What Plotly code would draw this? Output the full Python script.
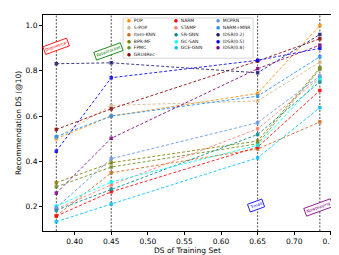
import plotly.graph_objects as go

train_ds = [0.375, 0.45, 0.65, 0.735]

series_names = ["POP", "S-POP", "Item-KNN", "BPR-MF", "FPMC", "GRU4Rec",
                "NARM", "STAMP", "SR-GNN", "GC-SAN", "GCE-GNN",
                "MCPRN", "NARM+MNR", "IDSR(0.2)", "IDSR(0.5)", "IDSR(0.8)"]

pop = [0.500, 0.600, 0.700, 1.000]
s_pop = [0.505, 0.647, 0.667, 0.838]
item_knn = [0.160, 0.350, 0.455, 0.574]
bpr_mf = [0.306, 0.394, 0.490, 0.813]
fpmc = [0.288, 0.375, 0.478, 0.807]
gru4rec = [0.541, 0.632, 0.843, 0.941]
narm = [0.159, 0.266, 0.463, 0.713]
stamp = [0.190, 0.296, 0.544, 0.770]
sr_gnn = [0.185, 0.277, 0.519, 0.751]
gc_san = [0.203, 0.309, 0.471, 0.766]
gce_gnn = [0.134, 0.212, 0.416, 0.637]
mcprn = [0.196, 0.412, 0.571, 0.777]
narm_mnr = [0.509, 0.600, 0.688, 0.862]
idsr_02 = [0.831, 0.835, 0.791, 0.960]
idsr_05 = [0.445, 0.769, 0.846, 0.899]
idsr_08 = [0.260, 0.502, 0.809, 0.913]

series_values = [pop, s_pop, item_knn, bpr_mf, fpmc, gru4rec, narm, stamp,
                 sr_gnn, gc_san, gce_gnn, mcprn, narm_mnr, idsr_02, idsr_05, idsr_08]

colors = ["#ff8c00", "#d2b48c", "#d2691e", "#808000", "#6b8e23", "#8b0000",
          "#ff0000", "#fa8072", "#008b8b", "#00ffff", "#00bfff",
          "#6495ed", "#1e90ff", "#191970", "#0000ff", "#800080"]

dataset_names = ["Diginetica", "Retailrocket", "Tmall", "Nowplaying"]
dataset_colors = ["#ff0000", "#008000", "#0000ff", "#800080"]
label_y = [0.909, 0.884, 0.206, 0.196]
label_x = [0.374, 0.446, 0.648, 0.733]

x_ticks = [0.40, 0.45, 0.50, 0.55, 0.60, 0.65, 0.70, 0.75]
y_ticks = [0.2, 0.4, 0.6, 0.8, 1.0]

fig = go.Figure()
for name, vals, col in zip(series_names, series_values, colors):
    fig.add_trace(go.Scatter(
        x=train_ds, y=vals, name=name, mode="lines+markers",
        line=dict(color=col, width=1, dash="3px,2px"),
        marker=dict(color=col, size=3.5, symbol="square"),
        opacity=0.85, showlegend=False))

# vertical dashed lines at the training-set DS values
for xv in train_ds:
    fig.add_shape(type="line", xref="x", yref="paper", x0=xv, x1=xv, y0=0, y1=1,
                  line=dict(color="#222", width=0.8, dash="2px,1.5px"), layer="below")

# dataset labels
for name, col, xv, yv in zip(dataset_names, dataset_colors, label_x, label_y):
    fig.add_annotation(x=xv, y=yv, xref="x", yref="y", text=name, showarrow=False,
                       textangle=-20, font=dict(size=4.3, color=col, family="DejaVu Sans"),
                       bgcolor="white", bordercolor=col, borderwidth=0.8, borderpad=1)

# manual legend (3 columns)
leg_x0, leg_x1, leg_y0, leg_y1 = 0.277, 0.727, 0.80, 0.986
fig.add_shape(type="rect", xref="paper", yref="paper", x0=leg_x0, x1=leg_x1,
              y0=leg_y0, y1=leg_y1, line=dict(color="#cccccc", width=0.8),
              fillcolor="rgba(255,255,255,0.8)", layer="above")
col_x = [0.285, 0.447, 0.593]
row_h = 6.8 / 216
columns = [series_names[0:6], series_names[6:11], series_names[11:16]]
idx = 0
for ci, names in enumerate(columns):
    for ri, nm in enumerate(names):
        col = colors[idx]
        fig.add_annotation(
            xref="paper", yref="paper", x=col_x[ci], y=0.974 - ri * row_h,
            xanchor="left", yanchor="middle", showarrow=False,
            text=f"<span style='color:{col}'>●</span>  {nm}",
            font=dict(size=4.5, color="#222", family="DejaVu Sans"))
        idx += 1

# axis titles
fig.add_annotation(xref="paper", yref="paper", x=0.5, y=-0.088, text="DS of Training Set",
                   showarrow=False, xanchor="center", yanchor="middle",
                   font=dict(size=7.5, family="DejaVu Sans", color="black"))
fig.add_annotation(xref="paper", yref="paper", x=-0.0865, y=0.5, text="Recommendation DS (@10)",
                   showarrow=False, xanchor="center", yanchor="middle", textangle=-90,
                   font=dict(size=7.5, family="DejaVu Sans", color="black"))

axis_common = dict(showline=True, linecolor="black", linewidth=1, mirror=True,
                   ticks="outside", ticklen=3, tickwidth=0.8, tickcolor="black",
                   showgrid=False, zeroline=False,
                   tickfont=dict(size=7.5, family="DejaVu Sans", color="black"))

fig.update_layout(
    width=339, height=255,
    margin=dict(l=35, r=15, t=7, b=32),
    plot_bgcolor="white", paper_bgcolor="white",
    font=dict(family="DejaVu Sans", color="black"),
    xaxis=dict(range=[0.3568, 0.7516], tickvals=x_ticks, tickformat=".2f", **axis_common),
    yaxis=dict(range=[0.093, 1.046], tickvals=y_ticks, tickformat=".1f", **axis_common),
)

fig.write_html("out.html")
